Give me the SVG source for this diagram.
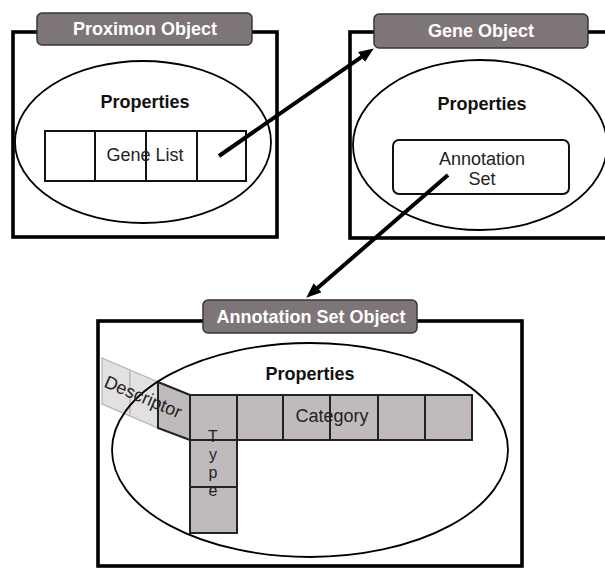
<svg xmlns="http://www.w3.org/2000/svg" width="605" height="568" viewBox="0 0 605 568">
<defs>
<style>
.box{fill:#fff;stroke:#000;stroke-width:3.6}
.tab{fill:#7e7579;stroke:#3a3538;stroke-width:1.5}
.tabt{font-family:"Liberation Sans",Arial,sans-serif;font-size:18px;font-weight:bold;fill:#fff;text-anchor:middle}
.ell{fill:none;stroke:#000;stroke-width:1.8}
.prop{font-family:"Liberation Sans",Arial,sans-serif;font-size:18px;font-weight:bold;fill:#111;text-anchor:middle}
.t{font-family:"Liberation Sans",Arial,sans-serif;font-size:18px;fill:#222;text-anchor:middle}
.ty{font-family:"Liberation Sans",Arial,sans-serif;font-size:16px;fill:#222;text-anchor:middle}
.cw{fill:#fff;stroke:#111;stroke-width:2}
.cg{fill:#c1babd;stroke:#222;stroke-width:2}
.cl{fill:#e3e0e1;stroke:#b8b4b6;stroke-width:1.2}
.arr{stroke:#000;stroke-width:4;fill:none}
</style>
<marker id="ah" markerUnits="userSpaceOnUse" markerWidth="15" markerHeight="12" refX="2" refY="6" orient="auto">
<path d="M0,0 L15,6 L0,12 z" fill="#000"/>
</marker>
</defs>
<rect width="605" height="568" fill="#fff"/>

<g id="proximon">
<rect class="box" x="13" y="32" width="264" height="205"/>
<rect class="tab" x="37" y="13" width="215" height="32" rx="5"/>
<text class="tabt" x="145" y="35">Proximon Object</text>
<ellipse class="ell" cx="143" cy="142" rx="128" ry="81"/>
<text class="prop" x="145" y="108">Properties</text>
<rect class="cw" x="45" y="131" width="50" height="50"/>
<rect class="cw" x="95" y="131" width="51" height="50"/>
<rect class="cw" x="146" y="131" width="51" height="50"/>
<rect class="cw" x="197" y="131" width="49" height="50"/>
<text class="t" x="145" y="161">Gene List</text>
</g>

<g id="gene">
<rect class="box" x="350" y="32" width="262" height="206"/>
<rect class="tab" x="374" y="14" width="214" height="34" rx="5"/>
<text class="tabt" x="481" y="37">Gene Object</text>
<ellipse class="ell" cx="480" cy="145" rx="127" ry="85"/>
<text class="prop" x="482" y="110">Properties</text>
<rect class="cw" x="393" y="140" width="176" height="54" rx="6"/>
<text class="t" x="482" y="165">Annotation</text>
<text class="t" x="482" y="185">Set</text>
</g>

<g id="annotation-set">
<rect class="box" x="98" y="321" width="424" height="245"/>
<rect class="tab" x="203" y="300" width="214" height="33" rx="5"/>
<text class="tabt" x="311" y="323">Annotation Set Object</text>
<polygon class="cl" points="102,358 130,370 130,416 102,404"/>
<polygon class="cl" points="130,370 158,382 158,428 130,416"/>
<polygon class="cg" points="158,382 190,395 190,440 158,428"/>
<rect class="cg" x="190" y="395" width="47" height="45"/>
<rect class="cg" x="237" y="395" width="46" height="45"/>
<rect class="cg" x="283" y="395" width="47" height="45"/>
<rect class="cg" x="330" y="395" width="48" height="45"/>
<rect class="cg" x="378" y="395" width="47" height="45"/>
<rect class="cg" x="425" y="395" width="47" height="45"/>
<rect class="cg" x="190" y="440" width="47" height="47"/>
<rect class="cg" x="190" y="487" width="47" height="46"/>
<ellipse class="ell" cx="310" cy="450" rx="198" ry="107"/>
<text class="prop" x="310" y="380">Properties</text>
<text class="t" x="332" y="422">Category</text>
<text class="t" x="143" y="403" transform="rotate(23 143 397)">Descriptor</text>
<text class="ty" x="213" y="442">T</text>
<text class="ty" x="213" y="460">y</text>
<text class="ty" x="213" y="478">p</text>
<text class="ty" x="213" y="496">e</text>
</g>

<g id="connectors">
<line class="arr" x1="219" y1="156" x2="363.1" y2="55.9" marker-end="url(#ah)"/>
<line class="arr" x1="448" y1="175" x2="316.1" y2="289.2" marker-end="url(#ah)"/>
</g>
</svg>
